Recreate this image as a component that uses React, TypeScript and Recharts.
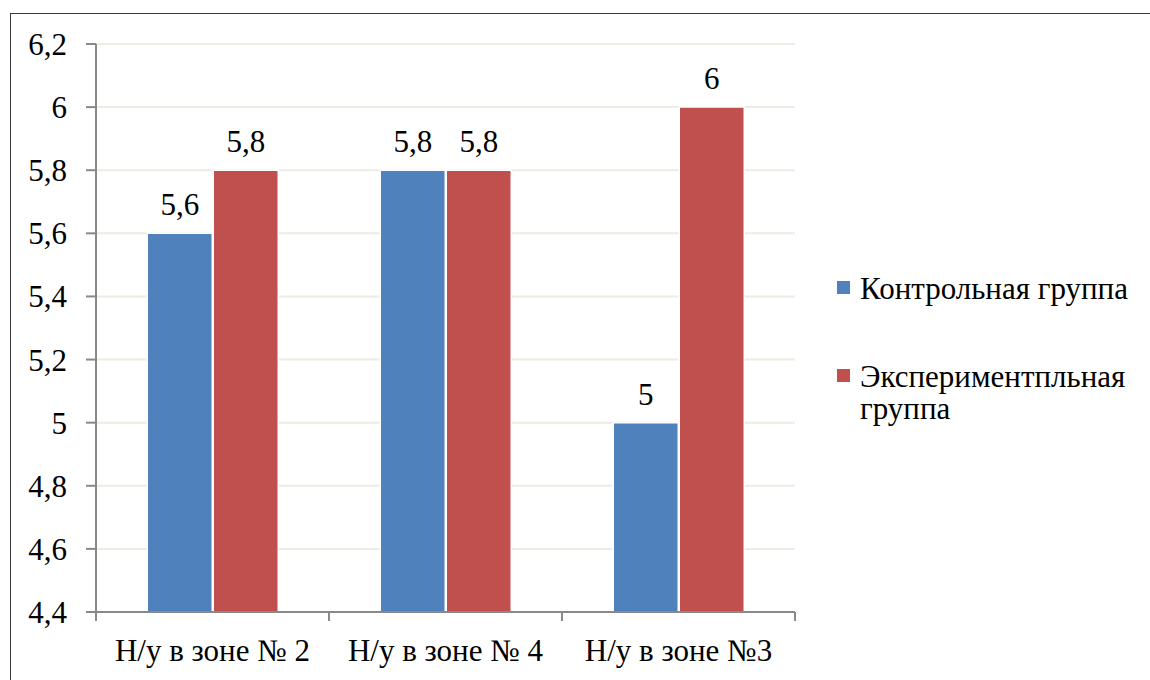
import React from 'react';
import { BarChart, Bar, XAxis, YAxis, CartesianGrid, LabelList } from 'recharts';

const categories = ['Н/у в зоне № 2', 'Н/у в зоне № 4', 'Н/у в зоне №3'];
const controlValues = [5.6, 5.8, 5];
const experimentalValues = [5.8, 5.8, 6];
const seriesNames = ['Контрольная группа', 'Экспериментпльная группа'];
const seriesColors = ['#4F81BD', '#C0504D'];
const yTicks = [4.4, 4.6, 4.8, 5, 5.2, 5.4, 5.6, 5.8, 6, 6.2];

const data = categories.map((c, i) => ({
  name: c,
  control: controlValues[i],
  experimental: experimentalValues[i],
}));

const SERIF = "'Liberation Serif'";
const fmt = (v: any) => String(v).replace('.', ',');

const XTick = (props: any) => {
  const { x, y, payload, index, visibleTicksCount } = props;
  const half = payload && typeof payload.offset === 'number' ? payload.offset : 0;
  const isLast = index === visibleTicksCount - 1;
  return (
    <g>
      <line x1={x - half} x2={x - half} y1={y} y2={y + 9} stroke="#898989" strokeWidth={2} />
      {isLast && <line x1={x + half} x2={x + half} y1={y} y2={y + 9} stroke="#898989" strokeWidth={2} />}
      <text x={x} y={y + 49} textAnchor="middle" fill="#000" style={{ fontFamily: SERIF, fontSize: 31 }}>
        {payload.value}
      </text>
    </g>
  );
};

export default function App() {
  return (
    <div style={{ width: 1150, height: 680 }}>
      <div
        style={{
          position: 'absolute',
          left: 10,
          top: 13,
          width: 1140,
          height: 667,
          borderTop: '1px solid #3c3c3c',
          borderLeft: '1px solid #3c3c3c',
          boxSizing: 'border-box',
        }}
      />
      <div style={{ position: 'absolute', left: 0, top: 0, width: 1150, height: 680 }}>
        <BarChart
          width={1150}
          height={680}
          data={data}
          margin={{ top: 44, right: 355, bottom: 38, left: 0 }}
          barCategoryGap="22%"
          barGap={1}
        >
          <CartesianGrid vertical={false} stroke="#EDECE2" strokeWidth={2} />
          <XAxis
            dataKey="name"
            height={30}
            axisLine={{ stroke: '#898989', strokeWidth: 2 }}
            tickLine={false}
            tickSize={0}
            tickMargin={0}
            tick={<XTick />}
            interval={0}
          />
          <YAxis
            width={96}
            domain={[4.4, 6.2]}
            ticks={yTicks}
            interval={0}
            tickFormatter={fmt}
            axisLine={{ stroke: '#898989', strokeWidth: 2 }}
            tickLine={{ stroke: '#898989', strokeWidth: 2 }}
            tickSize={10}
            tickMargin={19}
            tick={{ fontSize: 31, fontFamily: SERIF, fill: '#000' }}
          />
          <Bar dataKey="control" name={seriesNames[0]} fill={seriesColors[0]} stroke="#fff" strokeWidth={1.5} isAnimationActive={false}>
            <LabelList dataKey="control" position="top" offset={18} formatter={fmt} fill="#000" style={{ fontFamily: SERIF, fontSize: 31 }} />
          </Bar>
          <Bar dataKey="experimental" name={seriesNames[1]} fill={seriesColors[1]} stroke="#fff" strokeWidth={1.5} isAnimationActive={false}>
            <LabelList dataKey="experimental" position="top" offset={18} formatter={fmt} fill="#000" style={{ fontFamily: SERIF, fontSize: 31 }} />
          </Bar>
        </BarChart>
      </div>
      <div style={{ position: 'absolute', left: 837, top: 273, width: 313, fontFamily: SERIF, fontSize: 31, lineHeight: '32px', color: '#000' }}>
        {seriesNames.map((n, i) => (
          <div key={n} style={{ display: 'flex', alignItems: 'flex-start', marginBottom: i === 0 ? 56 : 0 }}>
            <div style={{ width: 13, height: 13, background: seriesColors[i], marginTop: 8, marginRight: 10, flexShrink: 0 }} />
            <div style={{ maxWidth: 292 }}>{n}</div>
          </div>
        ))}
      </div>
    </div>
  );
}
